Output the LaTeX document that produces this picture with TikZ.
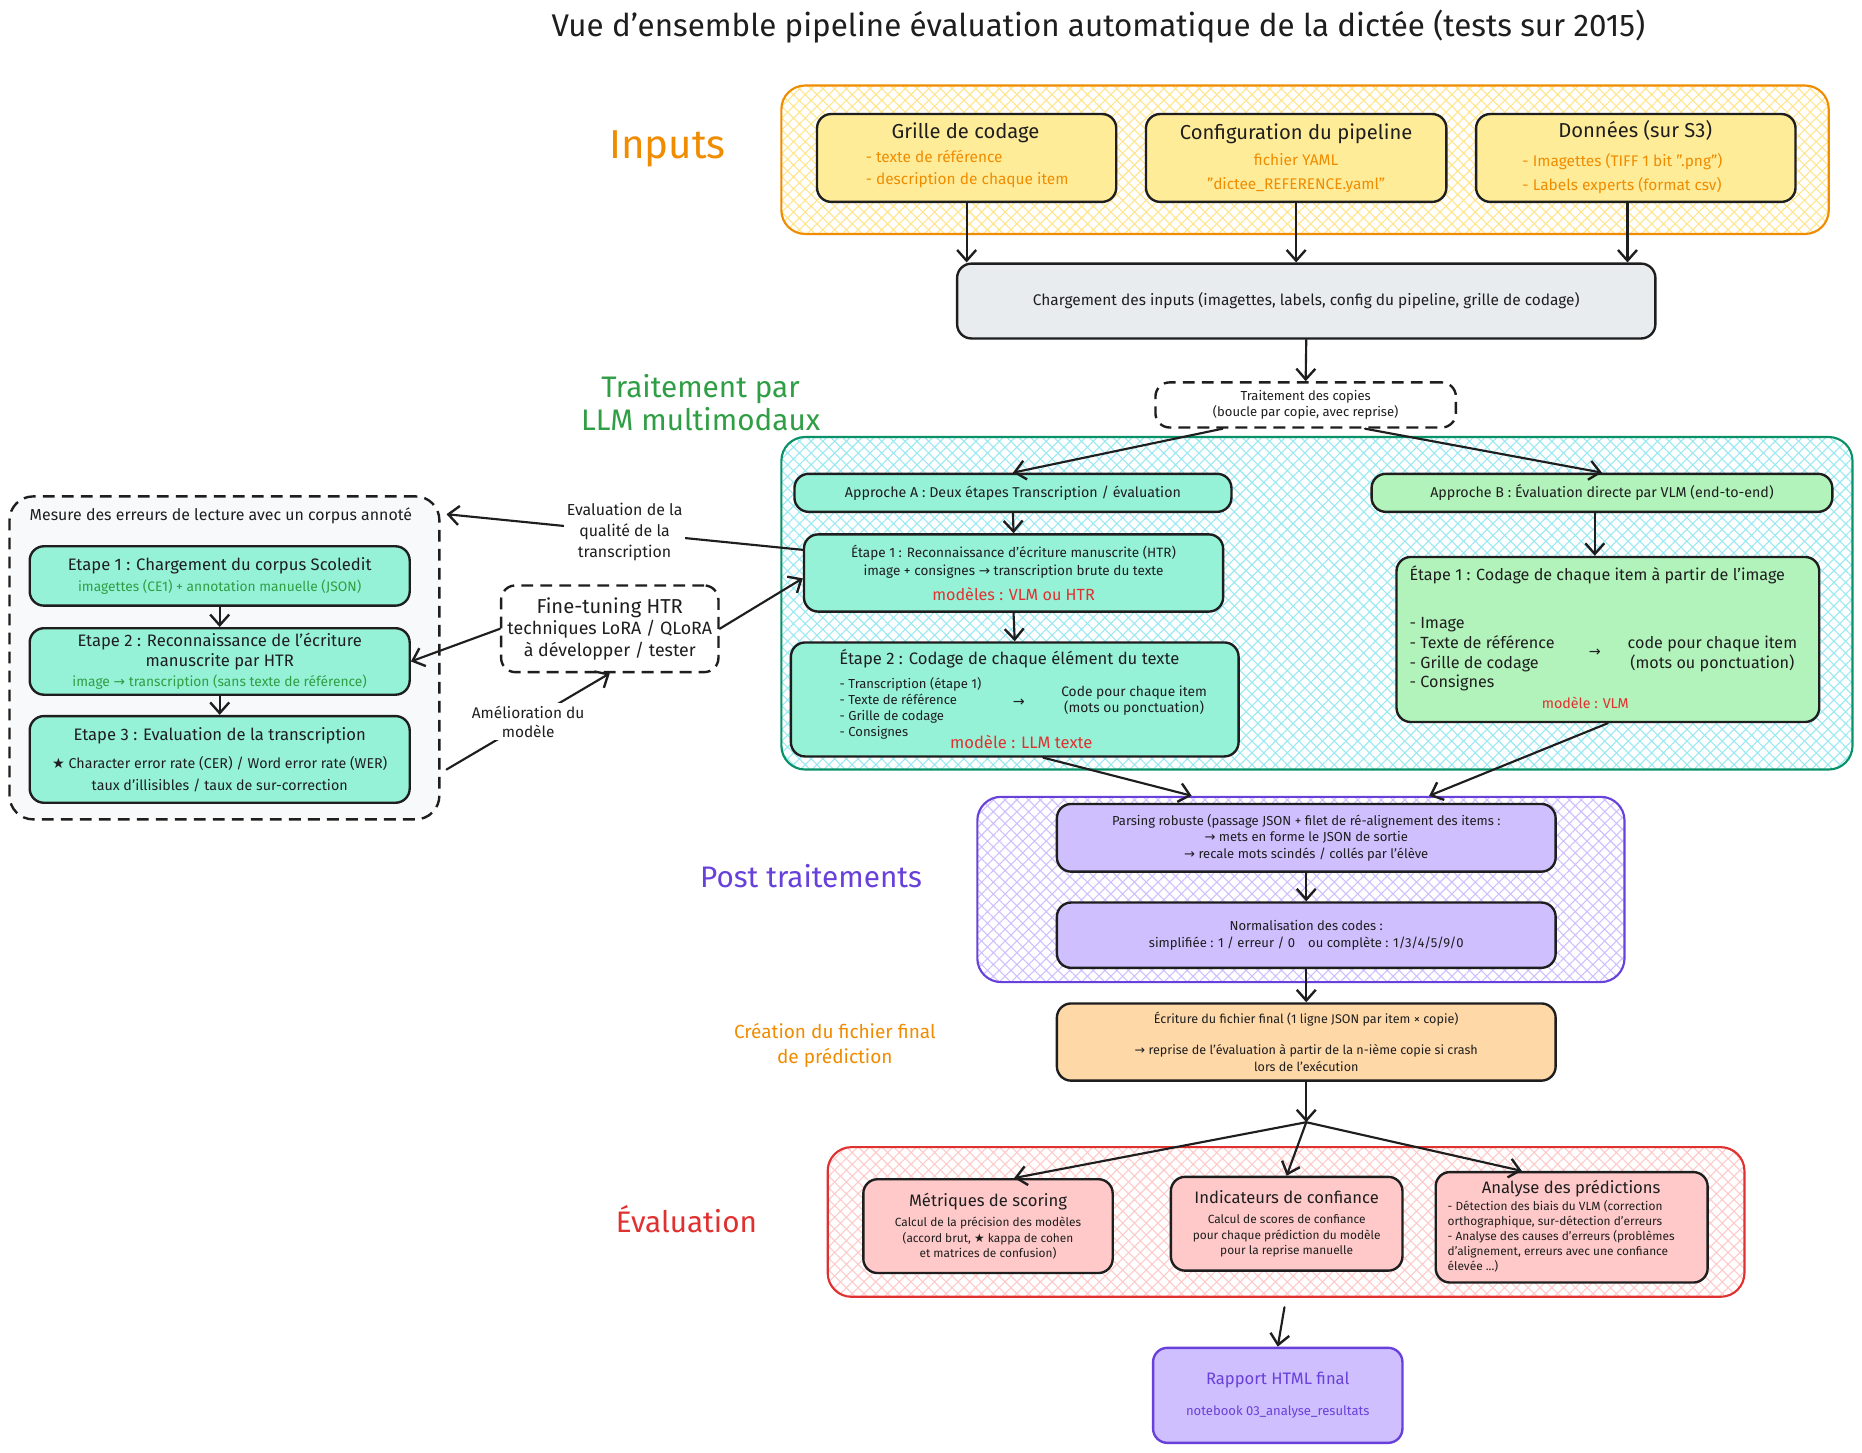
\documentclass[tikz,border=0pt]{standalone}
\usepackage{fontspec}
\setmainfont{Fira Sans}
\newfontfamily\symf{DejaVu Sans}
\usetikzlibrary{arrows.meta,patterns.meta,calc}
\newcommand{\myarr}{{\symf →}}
\newcommand{\mystar}{{\symf ★}}
\definecolor{inkc}{HTML}{1E1E1E}
\definecolor{orangec}{HTML}{F08C00}
\definecolor{yellowf}{HTML}{FFEC99}
\definecolor{yellowh}{HTML}{FFE58A}
\definecolor{grayf}{HTML}{E9ECEF}
\definecolor{tealc}{HTML}{099268}
\definecolor{cyanh}{HTML}{99E9F2}
\definecolor{mintf}{HTML}{96F2D7}
\definecolor{lgreenf}{HTML}{B2F2BB}
\definecolor{greent}{HTML}{2F9E44}
\definecolor{violetc}{HTML}{6741D9}
\definecolor{lavf}{HTML}{D0BFFF}
\definecolor{redc}{HTML}{E03131}
\definecolor{pinkf}{HTML}{FFC9C9}
\definecolor{peachf}{HTML}{FFD8A8}
\definecolor{paleg}{HTML}{F8F9FA}
\tikzset{arr/.style={-{Straight Barb[length=4.5pt,width=8pt,line width=1pt]}, line width=0.9pt, draw=inkc, line cap=round}}

\begin{document}
\begin{tikzpicture}[x=0.5pt,y=-0.5pt,
    every node/.style={text=inkc},
    sz/.style 2 args={minimum width=#1*0.5pt, minimum height=#2*0.5pt},
    fs/.style 2 args={font=\fontsize{#1}{#2}\selectfont},
    box/.style={draw=inkc, line width=1pt, rounded corners=6pt, inner sep=1pt, align=center},
    dbox/.style={box, dash pattern=on 5pt off 3pt, fill=white},
    grp/.style={line width=0.9pt, rounded corners=10pt,
        pattern={Hatch[angle=45,distance=3.5pt,line width=0.45pt]}},
    lbl/.style={align=center, inner sep=1pt},
    ]
    % Page
    \fill[white] (0,0) rectangle (1568,1223);
    \useasboundingbox (0,0) rectangle (1568,1223);

    \node[fs={13.2}{15}] (title) at (925,22) {Vue d'ensemble pipeline évaluation automatique de la dictée (tests sur 2015)};

    % Inputs
    \node[grp, draw=orangec, pattern color=yellowh, sz={882}{125}] (ingrp) at (1099,134.5) {};
    \node[lbl, text=orangec, fs={17}{20}] (inlbl) at (562,125) {Inputs};

    \node[box, fill=yellowf, sz={252}{74}] (grille) at (814,133) {};
    \node[fs={8.5}{10}] at (813,112) {Grille de codage};
    \node[fs={6.5}{8}, text=orangec, anchor=west] at (722,132) {- texte de référence};
    \node[fs={6.5}{8}, text=orangec, anchor=west] at (722,152) {- description de chaque item};

    \node[box, fill=yellowf, sz={253}{74}, fs={6.5}{10}] (config) at (1091.5,133)
        {{\fontsize{8.5}{10}\selectfont Configuration du pipeline}\\[1pt]
         \textcolor{orangec}{fichier YAML}\\\textcolor{orangec}{"dictee\_REFERENCE.yaml"}};

    \node[box, fill=yellowf, sz={269}{74}] (donnees) at (1377.5,133) {};
    \node[fs={8.5}{10}] at (1377,110) {Données (sur S3)};
    \node[fs={6.5}{8}, text=orangec, anchor=west] at (1275,136) {- Imagettes (TIFF 1 bit ".png")};
    \node[fs={6.5}{8}, text=orangec, anchor=west] at (1275,156) {- Labels experts (format csv)};

    \node[box, fill=grayf, sz={588}{63}, fs={6.5}{8}] (charg) at (1100,253.5)
        {Chargement des inputs (imagettes, labels, config du pipeline, grille de codage)};

    \draw[arr] (grille.south) -- (grille.south |- charg.north);
    \draw[arr] (config.south) -- (config.south |- charg.north);
    \draw[arr] ([xshift=-3.5pt]donnees.south) -- ([xshift=-3.5pt]donnees.south |- charg.north);

    \node[dbox, sz={253}{38}, fs={5.5}{6.8}] (copies) at (1099.5,341)
        {Traitement des copies\\(boucle par copie, avec reprise)};
    \draw[arr] (charg.south) -- (copies.north);

    % Traitement par LLM
    \node[grp, draw=tealc, pattern color=cyanh, sz={902}{280}] (llmgrp) at (1109,508) {};
    \node[lbl, text=greent, fs={12.5}{14}] (llmlbl) at (590,339) {Traitement par\\LLM multimodaux};

    \node[box, fill=mintf, sz={368}{32}, fs={6}{7}] (apprA) at (853,415)
        {Approche A : Deux étapes Transcription / évaluation};
    \node[box, fill=lgreenf, sz={388}{32}, fs={6}{7}] (apprB) at (1349,415)
        {Approche B : Évaluation directe par VLM (end-to-end)};

    \node[box, fill=mintf, sz={353}{65}, fs={5.7}{7.5}] (etA1) at (853.5,482.5)
        {Étape 1 : Reconnaissance d'écriture manuscrite (HTR)\\
         image + consignes \myarr{} transcription brute du texte\\[3pt]
         \textcolor{redc}{\fontsize{6.8}{8}\selectfont modèles : VLM ou HTR}};

    \node[box, fill=mintf, sz={377}{96}] (etA2) at (854.5,589) {};
    \node[fs={7}{8}] at (850,555) {Étape 2 : Codage de chaque élément du texte};
    \node[fs={5.5}{6.85}, align=left, anchor=west] at (700,596.5)
        {- Transcription (étape 1)\\- Texte de référence\\- Grille de codage\\- Consignes};
    \node[fs={6}{7}] at (858,592) {\myarr};
    \node[fs={5.8}{7}, align=center] at (955,590) {Code pour chaque item\\(mots ou ponctuation)};
    \node[fs={7}{8}, text=redc] at (860,625) {modèle : LLM texte};

    \node[box, fill=lgreenf, sz={356}{139}] (etB1) at (1354,538.5) {};
    \node[fs={6.8}{8}, anchor=west] at (1180,484) {Étape 1 : Codage de chaque item à partir de l'image};
    \node[fs={6.8}{8.35}, align=left, anchor=west] at (1180,551)
        {- Image\\- Texte de référence\\- Grille de codage\\- Consignes};
    \node[fs={6}{7}] at (1343,550) {\myarr};
    \node[fs={6.8}{8.4}, align=center] at (1442,550.5) {code pour chaque item\\(mots ou ponctuation)};
    \node[fs={6}{7}, text=redc] at (1335,592) {modèle : VLM};

    \draw[arr] ([xshift=-35pt]copies.south) -- (apprA.north);
    \draw[arr] ([xshift=25pt]copies.south) -- (apprB.north);
    \draw[arr] (apprA.south) -- (etA1.north);
    \draw[arr] (etA1.south) -- (etA2.north);
    \draw[arr] ([xshift=-3pt]apprB.south) -- ([xshift=-3pt]apprB.south |- etB1.north);

    % Post traitements
    \node[grp, draw=violetc, pattern color=lavf, sz={545}{156}] (postgrp) at (1095.5,749) {};
    \node[lbl, text=violetc, fs={12.5}{14}] (postlbl) at (683,738) {Post traitements};

    \node[box, fill=lavf, sz={420}{57}, fs={5.5}{6.8}] (parse) at (1100,705.5)
        {Parsing robuste (passage JSON + filet de ré-alignement des items :\\
         \myarr{} mets en forme le JSON de sortie\\
         \myarr{} recale mots scindés / collés par l'élève};
    \node[box, fill=lavf, sz={420}{55}, fs={5.5}{7}] (norm) at (1100,787.5)
        {Normalisation des codes :\\simplifiée : 1 / erreur / 0\quad ou complète : 1/3/4/5/9/0};

    \draw[arr] ([xshift=12pt]etA2.south) -- ([xshift=-46pt]postgrp.north);
    \draw[arr] (etB1.south) -- ([xshift=54pt]postgrp.north);
    \draw[arr] (parse.south) -- (norm.north);

    % Fichier final
    \node[box, fill=peachf, sz={420}{65}, fs={5.3}{7}] (ecrit) at (1100,877.5)
        {Écriture du fichier final (1 ligne JSON par item × copie)\\[6pt]
         \myarr{} reprise de l'évaluation à partir de la n-ième copie si crash\\
         lors de l'exécution};
    \node[lbl, text=orangec, fs={8}{10.5}] (ecritlbl) at (703,880) {Création du fichier final\\de prédiction};
    \draw[arr] (norm.south) -- (ecrit.north);

    % Evaluation
    \node[grp, draw=redc, pattern color=pinkf, sz={772}{126}] (evalgrp) at (1083,1029) {};
    \node[lbl, text=redc, fs={12.5}{14}] (evallbl) at (578,1027) {Évaluation};

    \node[box, fill=pinkf, sz={210}{79}, fs={5}{6.5}] (metr) at (832,1032.5)
        {{\fontsize{7}{8}\selectfont Métriques de scoring}\\[2pt]
         Calcul de la précision des modèles\\(accord brut, \mystar{} kappa de cohen\\et matrices de confusion)};
    \node[box, fill=pinkf, sz={195}{79}, fs={5}{6.5}] (indic) at (1083.5,1030.5)
        {{\fontsize{7}{8}\selectfont Indicateurs de confiance}\\[2pt]
         Calcul de scores de confiance\\pour chaque prédiction du modèle\\pour la reprise manuelle};
    \node[box, fill=pinkf, sz={229}{93}] (analy) at (1323.5,1033.5) {};
    \node[fs={7}{8}] at (1323,1001) {Analyse des prédictions};
    \node[fs={5}{6.25}, align=left, anchor=west] at (1212,1041)
        {- Détection des biais du VLM (correction\\orthographique, sur-détection d'erreurs\\
         - Analyse des causes d'erreurs (problèmes\\d'alignement, erreurs avec une confiance\\élevée ...)};

    \coordinate (split) at (1100,945);
    \draw[arr] (ecrit.south) -- (split);
    \draw[arr] (split) -- ([xshift=11pt]metr.north);
    \draw[arr] (split) -- (indic.north);
    \draw[arr] (split) -- ([xshift=-21pt]analy.north);

    \node[box, draw=violetc, fill=lavf, sz={210}{80}, text=violetc] (rapport) at (1076,1175)
        {{\fontsize{7}{8}\selectfont Rapport HTML final}\\[1pt]
         {\fontsize{5.5}{6.5}\selectfont notebook 03\_analyse\_resultats}};
    \draw[arr, shorten <=4pt] (evalgrp.south) -- (rapport.north);

    % Mesure des erreurs (HTR)
    \node[box, dash pattern=on 5pt off 3pt, fill=paleg, rounded corners=10pt, sz={362}{272}] (leftgrp) at (189,554) {};
    \node[fs={6.7}{8}] at (186,434) {Mesure des erreurs de lecture avec un corpus annoté};

    \node[box, fill=mintf, sz={320}{50}, fs={7}{9}] (left1) at (185,485)
        {Etape 1 : Chargement du corpus Scoledit\\
         \textcolor{greent}{\fontsize{5.8}{7}\selectfont imagettes (CE1) + annotation manuelle (JSON)}};
    \node[box, fill=mintf, sz={320}{56}, fs={7}{8.5}] (left2) at (185,557)
        {Etape 2 : Reconnaissance de l'écriture\\manuscrite par HTR\\
         \textcolor{greent}{\fontsize{5.8}{7}\selectfont image \myarr{} transcription (sans texte de référence)}};
    \node[box, fill=mintf, sz={320}{73}, fs={7}{9}] (left3) at (185,639.5)
        {Etape 3 : Evaluation de la transcription\\[3pt]
         {\fontsize{6}{7.5}\selectfont \mystar{} Character error rate (CER) / Word error rate (WER)}\\
         {\fontsize{6}{7.5}\selectfont taux d'illisibles / taux de sur-correction}};
    \draw[arr] (left1.south) -- (left2.north);
    \draw[arr] (left2.south) -- (left3.north);

    \node[dbox, sz={183}{73}, fs={7.5}{9}] (fine) at (513.5,529.5)
        {{\fontsize{8.5}{10}\selectfont Fine-tuning HTR}\\techniques LoRA / QLoRA\\à développer / tester};

    \draw[arr] ([yshift=9.75pt]etA1.west) -- ([xshift=2.5pt,yshift=-8pt]leftgrp.north east)
        node[midway, fill=white, lbl, fs={6.7}{8.75}] {Evaluation de la\\qualité de la\\transcription};
    \draw[arr] (fine.east) -- ([yshift=-2.25pt]etA1.west);
    \draw[arr] (fine.west) -- (left2.east);
    \draw[arr] ([xshift=15pt,yshift=-4.25pt]left3.east) -- (fine.south)
        node[midway, fill=white, lbl, fs={6.5}{8}] {Amélioration du\\modèle};
\end{tikzpicture}
\end{document}
